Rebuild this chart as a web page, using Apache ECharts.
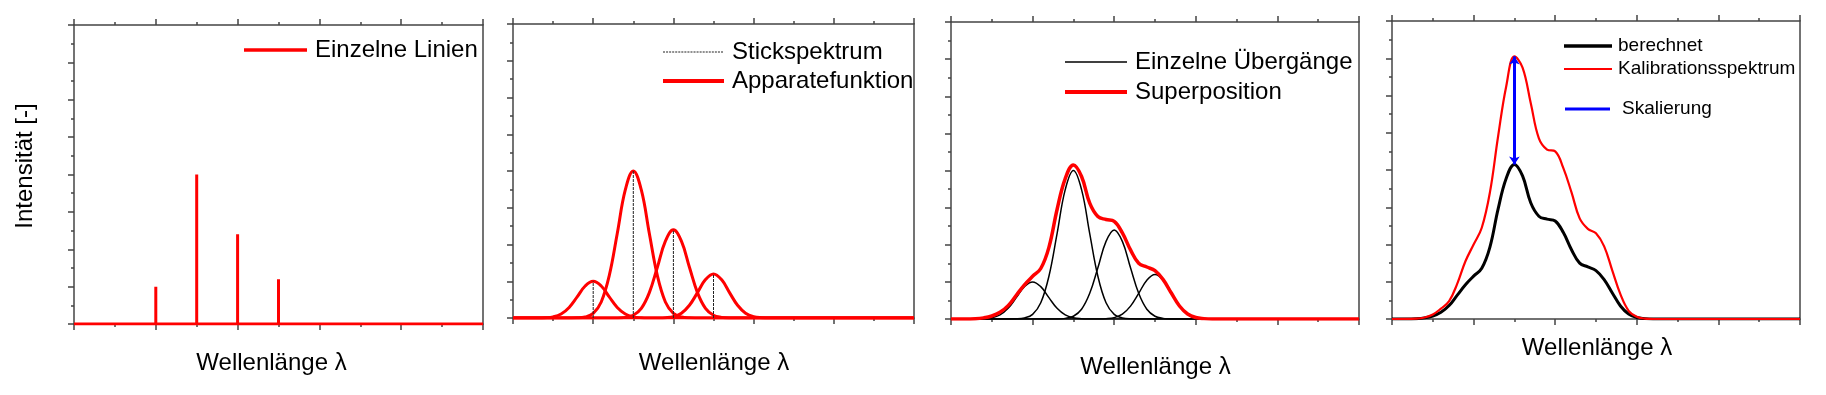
<!DOCTYPE html>
<html><head><meta charset="utf-8">
<script src="https://cdn.jsdelivr.net/npm/echarts@6/dist/echarts.min.js"></script>
<style>html,body{margin:0;padding:0;background:#fff}#c{width:1826px;height:395px}</style>
</head><body><div id="c"></div>
<script>
// ---- data ----
const xs       = [0,0.6,0.8,1.0,1.2,1.4,1.6,1.8,2.0,2.2,2.4,2.6,2.8,3.0,3.2,3.4,3.6,3.8,4.0,4.2,4.4,4.6,4.8,5.0,5.2,5.4,5.6,5.8,6.0,6.2,6.4,10];
const stickX   = [2, 3, 4, 5];
const stickH   = [1.0, 4.0, 2.4, 1.2];
const band1    = [0,0.001,0.007,0.031,0.109,0.288,0.575,0.871,1.0,0.871,0.575,0.288,0.109,0.031,0.007,0.001,0,0,0,0,0,0,0,0,0,0,0,0,0,0,0,0];
const band2    = [0,0,0,0,0,0.001,0.004,0.028,0.124,0.436,1.152,2.30,3.484,4.0,3.484,2.30,1.152,0.436,0.124,0.028,0.004,0.001,0,0,0,0,0,0,0,0,0,0];
const band3    = [0,0,0,0,0,0,0,0,0,0,0.001,0.002,0.017,0.074,0.262,0.691,1.38,2.09,2.4,2.09,1.38,0.691,0.262,0.074,0.017,0.002,0.001,0,0,0,0,0];
const band4    = [0,0,0,0,0,0,0,0,0,0,0,0,0,0,0,0,0.001,0.008,0.037,0.131,0.346,0.69,1.045,1.2,1.045,0.69,0.346,0.131,0.037,0.008,0.001,0];
const superpos = [0,0.01,0.03,0.08,0.18,0.36,0.64,0.92,1.15,1.36,1.93,2.95,3.78,4.15,3.84,3.12,2.76,2.68,2.63,2.32,1.86,1.5,1.4,1.3,1.06,0.7,0.35,0.135,0.04,0.01,0,0];
const calib    = [0,0.01,0.04,0.12,0.28,0.48,0.95,1.55,2.0,2.45,3.4,4.9,6.25,7.05,6.75,5.8,4.85,4.55,4.5,4.05,3.4,2.7,2.42,2.3,1.95,1.3,0.66,0.22,0.06,0.01,0,0];
const xMin = 0, xMax = 10, xStep = 2;
const yMin = 0, yMax = 8, yStep = 1;
const yTitle = 'Intensität [-]';
const xTitle = 'Wellenlänge λ';

// ---- chart ----
const FONT = 'Liberation Sans, Arial, sans-serif';
const AX = '#444';
const grids = [
  {left:74,  top:25, width:409, height:299},
  {left:513, top:24, width:401, height:294},
  {left:951, top:22, width:408, height:297},
  {left:1392,top:21, width:408, height:298}
];
const xAxes = [], yAxes = [];
grids.forEach((g, i) => {
  ['bottom','top'].forEach(pos => xAxes.push({
    type:'value', gridIndex:i, position:pos, min:xMin, max:xMax, interval:xStep,
    axisLine:{show:true, onZero:false, lineStyle:{color:AX, width:1.5}},
    axisTick:{show:true, inside:false, length:6, lineStyle:{color:AX, width:1.5}},
    minorTick:{show:true, splitNumber:2, length:3, lineStyle:{color:AX, width:1.5}},
    axisLabel:{show:false}, splitLine:{show:false}, minorSplitLine:{show:false}
  }));
  yAxes.push({
    type:'value', gridIndex:i, position:'left', min:yMin, max:yMax, interval:yStep,
    axisLine:{show:true, onZero:false, lineStyle:{color:AX, width:1.5}},
    axisTick:{show:true, inside:false, length:6, lineStyle:{color:AX, width:1.5}},
    minorTick:{show:true, splitNumber:2, length:3, lineStyle:{color:AX, width:1.5}},
    axisLabel:{show:false}, splitLine:{show:false}
  });
  yAxes.push({
    type:'value', gridIndex:i, position:'right', min:yMin, max:yMax, interval:yStep,
    axisLine:{show:true, onZero:false, lineStyle:{color:AX, width:1.5}},
    axisTick:{show:false}, axisLabel:{show:false}, splitLine:{show:false}
  });
});

const pairs = arr => xs.map((x, k) => [x, arr[k]]);
const bands = [band1, band2, band3, band4];
const spikes = [[xMin, 0]];
stickX.forEach((x, k) => { spikes.push([x, 0], [x, stickH[k]], [x, 0]); });
spikes.push([xMax, 0]);

const RED = '#ff0000';
const series = [];
const base = (name, gi, data, color, width, extra) => Object.assign({
  name, type:'line', xAxisIndex:2*gi, yAxisIndex:2*gi, data, symbol:'none', showSymbol:false,
  lineStyle:{color, width}, itemStyle:{color}, emphasis:{disabled:true}, silent:true, animation:false
}, extra || {});

// panel 1
series.push(base('Einzelne Linien', 0, spikes, RED, 3));
// panel 2
bands.forEach(b => series.push(base('Apparatefunktion', 1, pairs(b), RED, 3, {smooth:0.4, z:2})));
stickX.forEach((x, k) => series.push(base('Stickspektrum', 1, [[x, 0], [x, stickH[k]]], '#222', 1,
  {z:3, lineStyle:{color:'#222', width:1, type:[3,1]}})));
// panel 3
bands.forEach(b => series.push(base('Einzelne Übergänge', 2, pairs(b), '#000', 1.5, {smooth:0.4, z:2})));
series.push(base('Superposition', 2, pairs(superpos), RED, 3.5, {smooth:0.4, z:3}));
// panel 4
series.push(base('berechnet', 3, pairs(superpos), '#000', 3, {smooth:0.4, z:2}));
series.push(base('Kalibrationsspektrum', 3, pairs(calib), RED, 2.2, {smooth:0.4, z:3}));
const iPeak = calib.indexOf(Math.max(...calib));
series.push(base('Skalierung', 3, [], '#0000ff', 3, {z:4,
  markLine:{silent:true, symbol:['arrow','arrow'], symbolSize:8, label:{show:false},
    emphasis:{disabled:true}, animation:false,
    lineStyle:{color:'#0000ff', width:3, type:'solid'},
    data:[[{coord:[xs[iPeak], superpos[iPeak]]}, {coord:[xs[iPeak], calib[iPeak]]}]]}}));

// dashed legend icon
let dash = '';
for (let k = 0; k < 20; k++) dash += 'M' + (k * 3) + ',0h2v1h-2z';
const DASH_ICON = 'path://' + dash;

const leg = (name, left, top, w, h, fs, pad, icon) => ({
  data:[name], left, top, orient:'vertical', itemWidth:w, itemHeight:h, padding:0,
  selectedMode:false, itemGap:0, icon: icon || 'rect', symbolKeepAspect:false,
  textStyle:{fontSize:fs, lineHeight:fs, color:'#000', fontFamily:FONT, padding:[0,0,0,pad]}
});
const legends = [
  leg('Einzelne Linien', 244, 38, 63, 3.5, 24, 3),
  leg('Stickspektrum', 663, 40, 60, 1, 24, 4, DASH_ICON),
  leg('Apparatefunktion', 663, 69, 61, 4, 24, 3),
  leg('Einzelne Übergänge', 1065, 50, 62, 1.3, 24, 3),
  leg('Superposition', 1065, 80, 62, 4, 24, 3),
  leg('berechnet', 1564, 36.5, 48, 3.5, 19, 1),
  leg('Kalibrationsspektrum', 1564, 59.5, 48, 2, 19, 1),
  leg('Skalierung', 1565, 99.5, 45, 3, 19, 7)
];

const txt = (text, x, y, rot) => ({
  type:'text', x, y, rotation: rot || 0, silent:true,
  style:{text, fill:'#000', font:'24px ' + FONT, textAlign:'center', textVerticalAlign:'middle'}
});
const graphics = [
  txt(yTitle, 25, 166, Math.PI/2),
  txt(xTitle, 271.5, 363),
  txt(xTitle, 714, 363),
  txt(xTitle, 1155.5, 367),
  txt(xTitle, 1597, 348)
];

const chart = echarts.init(document.getElementById('c'), null, {renderer:'canvas'});
chart.setOption({
  animation:false, backgroundColor:'#fff',
  grid:grids, xAxis:xAxes, yAxis:yAxes, series, legend:legends, graphic:graphics,
  tooltip:{show:false}
});
</script></body></html>
